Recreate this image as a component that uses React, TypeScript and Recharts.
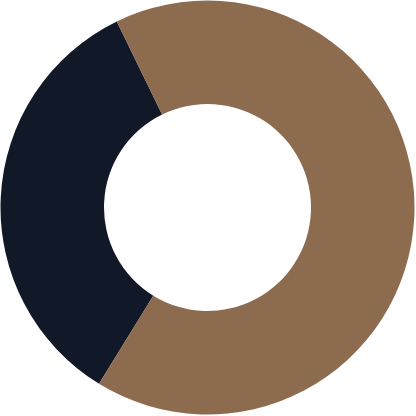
import { PieChart, Pie, Cell } from 'recharts';

const LABELS = ['Dark', 'Brown'];
const VALUES = [34, 66];
const COLORS = ['#111827', '#8d6b4f'];

const data = LABELS.map((name, i) => ({ name, value: VALUES[i] }));

export default function App() {
  return (
    <div style={{ position: 'fixed', left: 0, top: 0, width: 416, height: 416, background: '#fff' }}>
      <PieChart width={416} height={416} margin={{ top: 0, right: 0, bottom: 0, left: 0 }}>
        <Pie
          data={data}
          dataKey="value"
          cx={207.5}
          cy={207.5}
          innerRadius={103.5}
          outerRadius={207}
          startAngle={116}
          endAngle={476}
          stroke="none"
          isAnimationActive={false}
        >
          {data.map((entry, index) => (
            <Cell key={`cell-${index}`} fill={COLORS[index]} />
          ))}
        </Pie>
      </PieChart>
    </div>
  );
}
